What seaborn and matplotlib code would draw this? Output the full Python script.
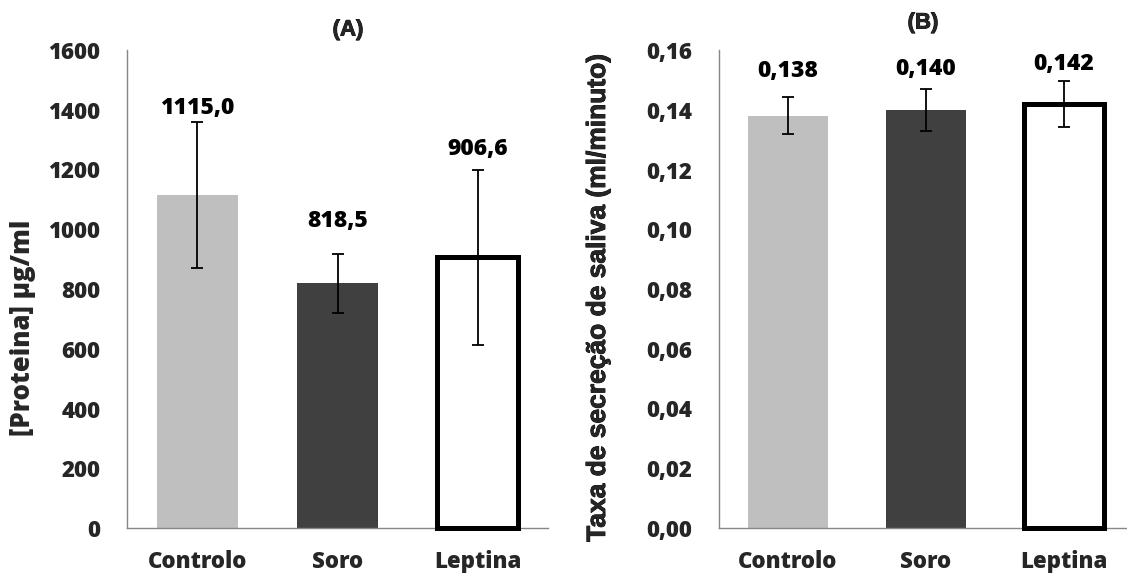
import numpy as np
import pandas as pd
import seaborn as sns
import matplotlib.pyplot as plt
import matplotlib.patheffects as pe
from matplotlib.ticker import FuncFormatter
from matplotlib import font_manager as fm

# Dados
grupos = ["Controlo", "Soro", "Leptina"]
proteina = [1115.0, 818.5, 906.6]
proteina_dp = [245.0, 98.0, 293.0]
taxa = [0.138, 0.140, 0.142]
taxa_dp = [0.0062, 0.0070, 0.0077]
ticks_a = [0, 200, 400, 600, 800, 1000, 1200, 1400, 1600]
ticks_b = [0.00, 0.02, 0.04, 0.06, 0.08, 0.10, 0.12, 0.14, 0.16]

cores = ["#BFBFBF", "#404040", "#FFFFFF"]
# deslocamento vertical (pontos) dos rótulos de valor acima das barras de erro
desl_a = [10, 24, 15]
desl_b = [19, 14, 12]

PESO = 800

sns.set_style("white")
plt.rcParams["font.family"] = ["Open Sans", "DejaVu Sans"]
plt.rcParams["font.weight"] = "bold"


def _peso(f):
    w = f.weight
    if isinstance(w, str):
        w = fm.weight_dict.get(w, 400)
    return int(w)


# ficheiro em negrito da família Liberation Sans (equivalente ao Arial)
cand = [f for f in fm.fontManager.ttflist
        if f.name == "Liberation Sans" and f.style == "normal"]
cand.sort(key=lambda f: (("bold" in f.fname.lower()), _peso(f)))
arial_file = cand[-1].fname if cand else None
# contorno fino para engrossar o traço dos títulos
reforco = [pe.withStroke(linewidth=0.6, foreground="black")]


def arial(size):
    if arial_file:
        return fm.FontProperties(fname=arial_file, size=size)
    return fm.FontProperties(family="DejaVu Sans", weight="bold", size=size)


W, H = 1127, 573
fig = plt.figure(figsize=(W / 100, H / 100), dpi=100)


def px_axes(left, right, top, bottom):
    return fig.add_axes([left / W, 1 - bottom / H, (right - left) / W, (bottom - top) / H])


ax1 = px_axes(127, 548, 50, 528)
ax2 = px_axes(719, 1127, 50, 528)

df_a = pd.DataFrame({"grupo": grupos, "valor": proteina})
df_b = pd.DataFrame({"grupo": grupos, "valor": taxa})


def painel(ax, df, dp, ticks, fmt_tick, fmt_val, desl, xmax):
    sns.barplot(data=df, x="grupo", y="valor", hue="grupo", palette=cores,
                legend=False, width=0.575, saturation=1, ax=ax, errorbar=None)
    # barra vazada com contorno preto
    for i, p in enumerate(ax.patches):
        p.set_linewidth(0)
        if i == 2:
            p.set_edgecolor("black")
            p.set_linewidth(3.6)
            p.set_clip_on(False)
            p.set_zorder(3)
    xs = np.arange(len(df))
    ax.errorbar(xs, df["valor"], yerr=dp, fmt="none", ecolor="black",
                elinewidth=1.3, capsize=4, capthick=1.3, zorder=4)
    for x, v, e, d in zip(xs, df["valor"], dp, desl):
        ax.annotate(fmt_val(v), (x, v + e), xytext=(0, d), textcoords="offset points",
                    ha="center", va="center", fontsize=16.5, fontweight=PESO,
                    color="black")
    ax.set_ylim(ticks[0], ticks[-1])
    ax.set_yticks(ticks)
    ax.yaxis.set_major_formatter(FuncFormatter(fmt_tick))
    ax.set_xlim(-0.5, xmax)
    ax.set_xlabel("")
    ax.set_ylabel("")
    ax.tick_params(axis="y", length=0, pad=19, labelsize=16)
    ax.tick_params(axis="x", length=0, pad=16, labelsize=16)
    for lab in ax.get_xticklabels() + ax.get_yticklabels():
        lab.set_fontweight(PESO)
    for s in ["top", "right"]:
        ax.spines[s].set_visible(False)
    for s in ["left", "bottom"]:
        ax.spines[s].set_color("#868686")
        ax.spines[s].set_linewidth(1.0)


painel(ax1, df_a, proteina_dp, ticks_a,
       lambda v, _: f"{v:.0f}",
       lambda v: f"{v:.1f}".replace(".", ","),
       desl_a, 2.5)
painel(ax2, df_b, taxa_dp, ticks_b,
       lambda v, _: f"{v:.2f}".replace(".", ","),
       lambda v: f"{v:.3f}".replace(".", ","),
       desl_b, -0.5 + 408 / 138)

fig.text(348 / W, 1 - 30 / H, "(A)", ha="center", va="center",
         fontproperties=arial(16), path_effects=reforco)
fig.text(923 / W, 1 - 23 / H, "(B)", ha="center", va="center",
         fontproperties=arial(16), path_effects=reforco)
fig.text(23 / W, 1 - 328 / H, "[Proteina] µg/ml", ha="center", va="center",
         rotation=90, fontsize=18.5, fontweight=PESO)
fig.text(598 / W, 1 - 298 / H, "Taxa de secreção de saliva (ml/minuto)",
         ha="center", va="center", rotation=90, fontproperties=arial(19),
         path_effects=reforco)

fig.savefig("out.png", dpi=100)
